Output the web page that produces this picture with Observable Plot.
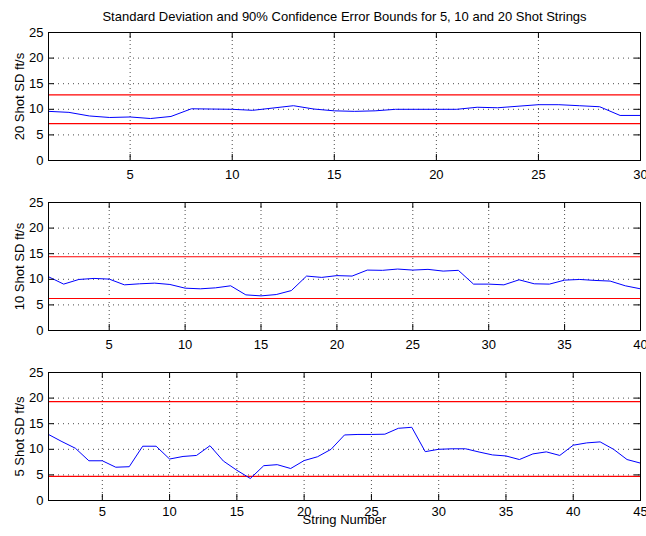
<!DOCTYPE html>
<html><head><meta charset="utf-8">
<script src="https://cdn.jsdelivr.net/npm/d3@7"></script>
<script src="https://cdn.jsdelivr.net/npm/@observablehq/plot@0.6"></script>
<style>
body{margin:0;background:#fff;}
#chart{position:relative;width:646px;height:536px;overflow:hidden;background:#fff;}
#chart svg{position:absolute;left:0;}
</style></head><body><div id="chart"></div>
<script>
const title = "Standard Deviation and 90% Confidence Error Bounds for 5, 10 and 20 Shot Strings";
const xLabel = "String Number";
const yTicks = [0, 5, 10, 15, 20, 25];

const yLabel20 = "20 Shot SD ft/s";
const yLabel10 = "10 Shot SD ft/s";
const yLabel5 = "5 Shot SD ft/s";

const xTicks20 = [5, 10, 15, 20, 25, 30];
const xTicks10 = [5, 10, 15, 20, 25, 30, 35, 40];
const xTicks5 = [5, 10, 15, 20, 25, 30, 35, 40, 45];

const sd20 = [9.6, 9.4, 8.7, 8.4, 8.5, 8.2, 8.6, 10.1, 10.05, 10.0,
  9.8, 10.25, 10.7, 10.05, 9.7, 9.6, 9.7, 10.0, 10.0, 10.0,
  10.0, 10.4, 10.3, 10.6, 10.9, 10.9, 10.7, 10.5, 8.8, 8.8];
const sd10 = [10.5, 9.06, 9.97, 10.17, 10.04, 8.92, 9.12, 9.25, 8.99, 8.27,
  8.14, 8.33, 8.73, 6.96, 6.76, 7.02, 7.8, 10.63, 10.37, 10.72,
  10.63, 11.8, 11.75, 12.0, 11.8, 11.94, 11.6, 11.75, 9.06, 9.06,
  8.92, 9.9, 9.12, 9.06, 9.84, 9.97, 9.78, 9.65, 8.73, 8.14];
const sd5 = [12.9, 11.5, 10.2, 7.76, 7.76, 6.5, 6.6, 10.6, 10.6, 8.1,
  8.6, 8.8, 10.7, 7.7, 5.9, 4.3, 6.8, 7.0, 6.25, 7.8,
  8.55, 10.0, 12.8, 12.9, 12.9, 12.95, 14.1, 14.3, 9.54, 10.0,
  10.1, 10.1, 9.47, 8.9, 8.7, 8.0, 9.1, 9.5, 8.8, 10.8,
  11.25, 11.45, 10.0, 8.0, 7.3];

const bounds20 = [7.2, 12.8];
const bounds10 = [6.25, 14.4];
const bounds5 = [4.7, 19.3];

const FONT = "'Liberation Sans', Arial, Helvetica, sans-serif";
const W = 646, ML = 48, MR = 6;

function panel({values, bounds, xTicks, yLabel, top, height, marginTop, marginBottom, padX, extra = []}) {
  const data = values.map((v, i) => ({n: i + 1, sd: v}));
  const innerH = height - marginTop - marginBottom;
  const innerW = W - ML - MR;
  const tk = 6;
  const svg = Plot.plot({
    width: W, height, marginLeft: ML, marginRight: MR, marginTop, marginBottom,
    style: {fontFamily: FONT, fontSize: "13px", color: "#000", background: "#fff", overflow: "hidden"},
    x: {domain: [1, values.length]},
    y: {domain: [0, 25]},
    marks: [
      Plot.ruleX(xTicks, {stroke: "#000", strokeOpacity: 0.7, strokeDasharray: "1,3"}),
      Plot.ruleY(yTicks, {stroke: "#000", strokeOpacity: 0.7, strokeDasharray: "1,4"}),
      Plot.ruleY(bounds, {stroke: "#ff0000", strokeWidth: 1.2}),
      Plot.line(data, {x: "n", y: "sd", stroke: "#0000ff", strokeWidth: 1}),
      Plot.frame({stroke: "#000", strokeWidth: 1}),
      Plot.tickX(xTicks, {stroke: "#000", insetTop: innerH - tk}),
      Plot.tickX(xTicks, {stroke: "#000", insetBottom: innerH - tk}),
      Plot.tickY(yTicks, {stroke: "#000", insetRight: innerW - tk}),
      Plot.tickY(yTicks, {stroke: "#000", insetLeft: innerW - tk}),
      Plot.axisX(xTicks, {anchor: "bottom", tickSize: 0, tickPadding: padX, label: null, fontSize: 13}),
      Plot.axisY(yTicks, {anchor: "left", tickSize: 0, tickPadding: 5, label: null, fontSize: 13}),
      Plot.text([yLabel], {frameAnchor: "left", textAnchor: "middle", lineAnchor: "middle", rotate: -90, dx: -28.5, fontSize: 13, fill: "#000"}),
      ...extra
    ]
  });
  svg.style.top = top + "px";
  document.getElementById("chart").appendChild(svg);
}

panel({values: sd20, bounds: bounds20, xTicks: xTicks20, yLabel: yLabel20,
  top: 0, height: 182, marginTop: 32, marginBottom: 22, padX: 9,
  extra: [Plot.text([title], {frameAnchor: "top", textAnchor: "middle", lineAnchor: "middle", dy: -16, fontSize: 13, fill: "#000"})]});
panel({values: sd10, bounds: bounds10, xTicks: xTicks10, yLabel: yLabel10,
  top: 182, height: 170, marginTop: 20, marginBottom: 22, padX: 9});
panel({values: sd5, bounds: bounds5, xTicks: xTicks5, yLabel: yLabel5,
  top: 352, height: 184, marginTop: 20, marginBottom: 36, padX: 6,
  extra: [Plot.text([xLabel], {frameAnchor: "bottom", textAnchor: "middle", lineAnchor: "middle", dy: 19.5, fontSize: 13, fill: "#000"})]});
</script></body></html>
